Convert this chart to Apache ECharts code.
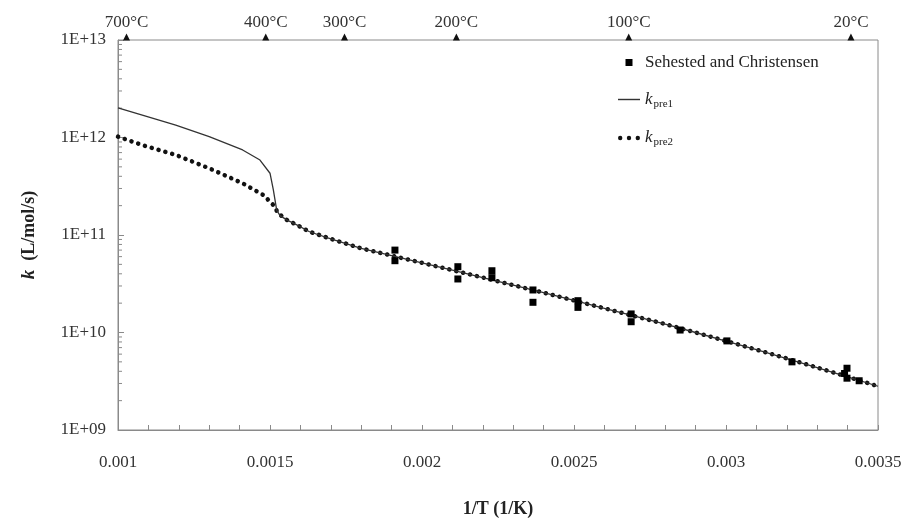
<!DOCTYPE html>
<html>
<head>
<meta charset="utf-8">
<script src="https://cdn.jsdelivr.net/npm/echarts@6/dist/echarts.min.js"></script>
<style>
html,body{margin:0;padding:0;background:#fff}
#chart{width:907px;height:523px}
</style>
</head>
<body>
<div id="chart"></div>
<script>
// x = 1/T (1/K), y = k (L/mol/s)
var pre1Head = [[0.001,2.01e12],[0.00108,1.70e12],[0.00119,1.34e12],[0.0013,1.02e12],[0.00141,7.45e11],
  [0.001467,5.87e11],[0.0015,4.30e11],[0.001511,2.90e11],[0.001522,1.80e11],[0.001533,1.58e11]];
var pre2Head = [[0.001,1.02e12],[0.00108,8.37e11],[0.00119,6.62e11],[0.0013,4.83e11],[0.00141,3.39e11],
  [0.001478,2.57e11],[0.001511,2.03e11],[0.001527,1.67e11]];
// both curves are the same below 400°C
var tail = [[0.001555,1.43e11],[0.001588,1.27e11],[0.00163,1.08e11],[0.0017,9.12e10],[0.0018,7.29e10],
  [0.0019,6.15e10],[0.002,5.18e10],[0.0021,4.36e10],[0.0022,3.66e10],[0.0023,3.06e10],[0.0024,2.56e10],
  [0.0025,2.13e10],[0.0026,1.77e10],[0.0027,1.47e10],[0.0028,1.22e10],[0.0029,1.0e10],[0.003,8.18e9],
  [0.0031,6.67e9],[0.0032,5.41e9],[0.0033,4.37e9],[0.0034,3.51e9],[0.0035,2.81e9]];

var sehX = [0.001911,0.001911,0.002118,0.002118,0.00223,0.00223,0.002365,0.002365,0.002513,0.002513,
  0.002688,0.002688,0.002849,0.003003,0.003217,0.003398,0.00339,0.003398,0.003438];
var sehK = [7.0e10,5.45e10,4.73e10,3.54e10,4.3e10,3.65e10,2.73e10,2.04e10,2.12e10,1.81e10,
  1.55e10,1.29e10,1.06e10,8.2e9,5.0e9,4.3e9,3.8e9,3.4e9,3.2e9];

var tempX = [0.001028,0.001486,0.001745,0.002113,0.00268,0.003411];
var tempLabels = ['700°C','400°C','300°C','200°C','100°C','20°C'];

var decades = [1e9,1e10,1e11,1e12];
var minorMult = [2,3,4,5,6,7,8,9];

var serif = 'Liberation Serif';

var sehData = [];
for (var i = 0; i < sehX.length; i++) sehData.push([sehX[i], sehK[i]]);
var tempData = [];
for (var i = 0; i < tempX.length; i++) tempData.push({name: tempLabels[i], value: [tempX[i], 1e13]});
var minorTicks = [];
for (var d = 0; d < decades.length; d++)
  for (var m = 0; m < minorMult.length; m++) minorTicks.push([0.001, decades[d] * minorMult[m]]);

var myChart = echarts.init(document.getElementById('chart'));
var option = {
  animation: false,
  backgroundColor: '#fff',
  grid: {left: 118, right: 29, top: 40, bottom: 93, show: true, borderColor: '#8a8a8a', borderWidth: 1},
  legend: {
    orient: 'vertical', left: 613, top: 49, itemWidth: 22, itemHeight: 7, itemGap: 20,
    data: [
      {name: 'Sehested and Christensen', icon: 'path://M0,0h10v10h-10z'},
      {name: 'k_pre1', icon: 'path://M0,0h20v1.3h-20z'},
      {name: 'k_pre2', icon: 'path://M0,2a2,2 0 1,0 4,0a2,2 0 1,0 -4,0zM8,2a2,2 0 1,0 4,0a2,2 0 1,0 -4,0zM16,2a2,2 0 1,0 4,0a2,2 0 1,0 -4,0z'}
    ],
    formatter: function (n) {
      if (n === 'k_pre1') return '{i|k}{s|pre1}';
      if (n === 'k_pre2') return '{i|k}{s|pre2}';
      return n;
    },
    textStyle: {
      fontFamily: serif, fontSize: 17, color: '#222',
      rich: {
        i: {fontFamily: serif, fontStyle: 'italic', fontSize: 17, color: '#222'},
        s: {fontFamily: serif, fontSize: 11, color: '#222', padding: [9, 0, 0, 1]}
      }
    }
  },
  xAxis: {
    type: 'value', min: 0.001, max: 0.0035, interval: 0.0005,
    name: '1/T (1/K)', nameLocation: 'middle', nameGap: 70,
    nameTextStyle: {fontFamily: serif, fontSize: 18, fontWeight: 'bold', color: '#222'},
    axisLine: {lineStyle: {color: '#8a8a8a'}},
    axisTick: {inside: true, length: 5, lineStyle: {color: '#8a8a8a'}},
    minorTick: {show: true, splitNumber: 5, length: 5, lineStyle: {color: '#8a8a8a'}},
    splitLine: {show: false},
    axisLabel: {
      fontFamily: serif, fontSize: 17, color: '#333', margin: 24,
      formatter: function (v) { return String(+v.toFixed(4)); }
    }
  },
  yAxis: {
    type: 'log', logBase: 10, min: 1e9, max: 1e13,
    name: '{i|k}  (L/mol/s)', nameLocation: 'middle', nameGap: 79,
    nameTextStyle: {
      fontFamily: serif, fontSize: 18, fontWeight: 'bold', color: '#222',
      rich: {i: {fontFamily: serif, fontSize: 19, fontWeight: 'bold', fontStyle: 'italic', color: '#222'}}
    },
    axisLine: {lineStyle: {color: '#8a8a8a'}},
    axisTick: {inside: true, length: 6, lineStyle: {color: '#8a8a8a'}},
    splitLine: {show: false},
    axisLabel: {
      fontFamily: serif, fontSize: 17, color: '#333', margin: 12,
      formatter: function (v) {
        var e = Math.round(Math.log10(v));
        return '1E+' + (e < 10 ? '0' + e : e);
      }
    }
  },
  series: [
    {
      name: 'Sehested and Christensen', type: 'scatter', symbol: 'rect', symbolSize: 7,
      itemStyle: {color: '#000', opacity: 1}, data: sehData, z: 4
    },
    {
      name: 'k_pre2', type: 'line', showSymbol: false, symbol: 'none',
      lineStyle: {color: '#111', width: 4.5, type: [0.1, 7], cap: 'round'},
      itemStyle: {color: '#111'},
      data: pre2Head.concat(tail), z: 2
    },
    {
      name: 'k_pre1', type: 'line', showSymbol: false, symbol: 'none',
      lineStyle: {color: '#333', width: 1.3},
      itemStyle: {color: '#333'},
      data: pre1Head.concat(tail), z: 3
    },
    {
      name: 'temps', type: 'scatter', symbol: 'triangle', symbolSize: 7, symbolOffset: [0, -3],
      clip: false, itemStyle: {color: '#111', opacity: 1}, silent: true,
      label: {show: true, position: 'top', distance: 2, formatter: '{b}',
        fontFamily: serif, fontSize: 17, color: '#333'},
      data: tempData
    },
    {
      name: 'minor', type: 'custom', clip: false, silent: true, data: minorTicks,
      renderItem: function (params, api) {
        var p = api.coord([api.value(0), api.value(1)]);
        return {type: 'line', shape: {x1: p[0], y1: p[1], x2: p[0] + 4, y2: p[1]},
          style: {stroke: '#8a8a8a', lineWidth: 1}};
      }
    }
  ]
};
myChart.setOption(option);
</script>
</body>
</html>
